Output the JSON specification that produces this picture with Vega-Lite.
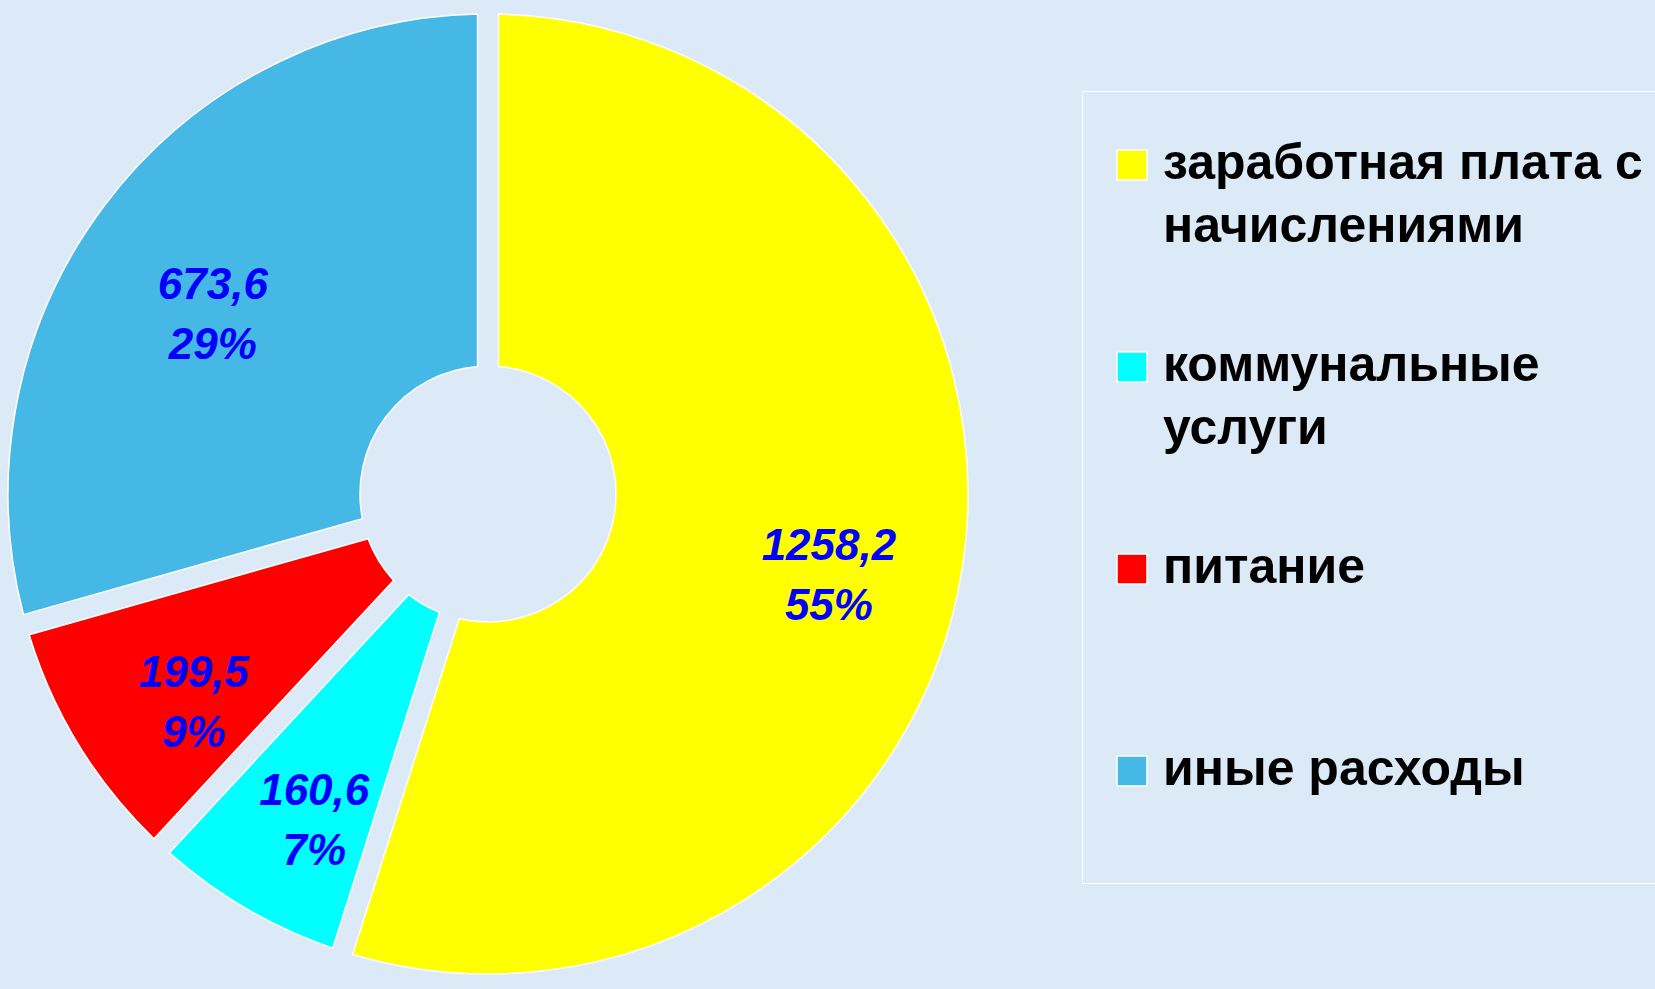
{
  "$schema": "https://vega.github.io/schema/vega-lite/v6.json",
  "width": 976,
  "height": 988,
  "autosize": {"type": "none"},
  "padding": {"left": 0, "top": 0, "right": 679, "bottom": 1},
  "background": "#dce9f6",
  "view": {"stroke": null},
  "data": {
    "values": [
      {"i": 1, "category": "заработная плата с начислениями", "value": 1258.2, "valueText": "1258,2", "pct": "55%"},
      {"i": 2, "category": "коммунальные услуги", "value": 160.6, "valueText": "160,6", "pct": "7%"},
      {"i": 3, "category": "питание", "value": 199.5, "valueText": "199,5", "pct": "9%"},
      {"i": 4, "category": "иные расходы", "value": 673.6, "valueText": "673,6", "pct": "29%"}
    ]
  },
  "transform": [{"calculate": "[datum.valueText, datum.pct]", "as": "lines"}],
  "encoding": {
    "theta": {"field": "value", "type": "quantitative", "stack": true},
    "order": {"field": "i", "type": "quantitative"}
  },
  "layer": [
    {
      "mark": {"type": "arc", "innerRadius": 128, "outerRadius": 480, "padAngle": 0.042, "stroke": "white", "strokeWidth": 1.5},
      "encoding": {
        "color": {
          "field": "category",
          "type": "nominal",
          "scale": {
            "domain": ["заработная плата с начислениями", "коммунальные услуги", "питание", "иные расходы"],
            "range": ["#ffff00", "#00ffff", "#ff0000", "#45b8e6"]
          },
          "legend": {
            "orient": "none",
            "legendX": 1082,
            "legendY": 91,
            "title": " ",
            "titleFontSize": 14,
            "titlePadding": 10,
            "symbolType": "square",
            "symbolSize": 900,
            "symbolStrokeColor": "white",
            "symbolStrokeWidth": 1.5,
            "symbolOpacity": 1,
            "labelFont": "Liberation Sans",
            "labelFontSize": 50,
            "labelFontWeight": "bold",
            "labelColor": "black",
            "labelOffset": 6,
            "labelLimit": 900,
            "labelBaseline": "top",
            "rowPadding": 89,
            "padding": 25,
            "strokeColor": "white",
            "labelExpr": "datum.label == 'заработная плата с начислениями' ? ['заработная плата с', 'начислениями'] : datum.label == 'коммунальные услуги' ? ['коммунальные', 'услуги'] : [datum.label, '']",
            "encode": {
              "labels": {"update": {"lineHeight": {"value": 63}, "dy": {"value": -26}}}
            }
          }
        }
      }
    },
    {
      "mark": {"type": "text", "radius": 345, "font": "Liberation Sans", "fontSize": 44, "fontWeight": "bold", "fontStyle": "italic", "lineHeight": 60},
      "encoding": {
        "text": {"field": "lines"},
        "color": {"value": "#0000ff"}
      }
    }
  ]
}
